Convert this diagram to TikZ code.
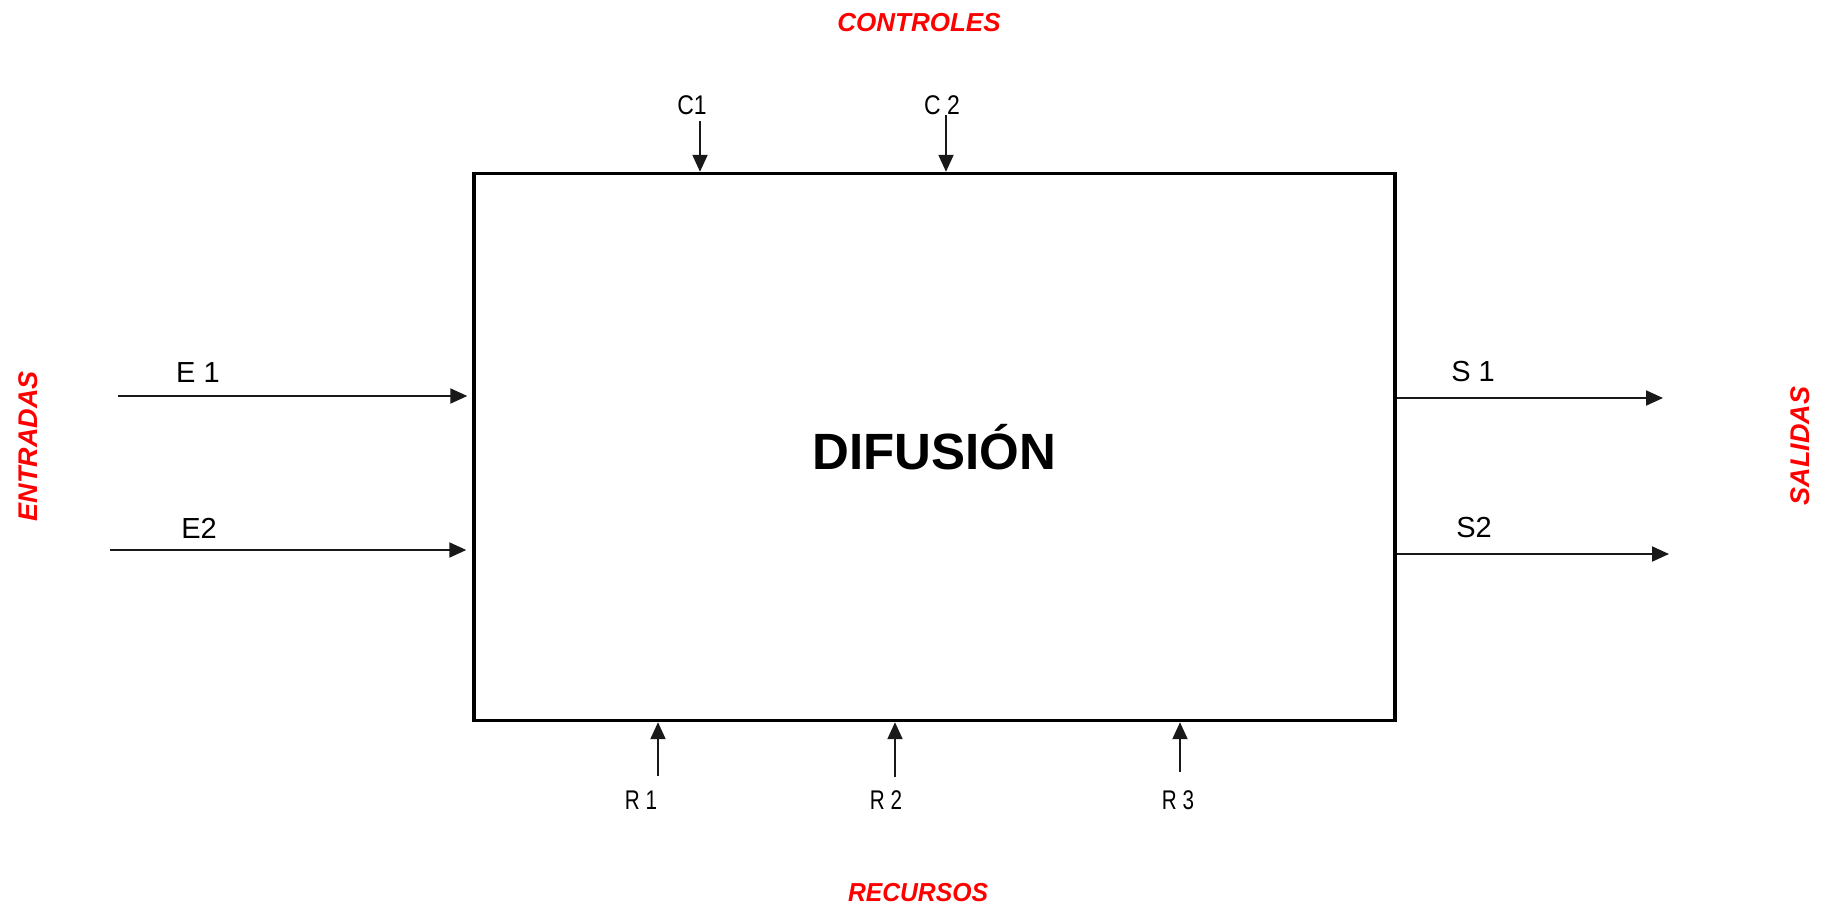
\documentclass[tikz,border=0pt]{standalone}
\usepackage{fontspec}
\setmainfont{Liberation Sans}
\usetikzlibrary{arrows.meta}

\begin{document}
\begin{tikzpicture}[
  x=1pt,y=-1pt,
  >={Triangle[length=17pt,width=15pt]},
  proc/.style={draw,line width=3.4pt,minimum width=921pt,minimum height=547pt,inner sep=0pt,
    font=\fontsize{51}{60}\selectfont\bfseries},
  flow/.style={->,line width=2pt,black!90},
  side/.style={text=red,font=\fontsize{27}{32}\selectfont\bfseries\itshape,inner sep=0pt},
  tag/.style={font=\fontsize{29}{34}\selectfont,inner sep=0pt},
  small/.style={font=\fontsize{27}{32}\selectfont,inner sep=0pt,xscale=.85}
]
\useasboundingbox (0,0) rectangle (1829,906);

% Central activity box
\node[proc] (box) at (934.5,447) {DIFUSIÓN};

% Group titles
\node[side,font=\fontsize{26}{30}\selectfont\bfseries\itshape] (ctl) at (919,23) {CONTROLES};
\node[side,font=\fontsize{26}{30}\selectfont\bfseries\itshape,xscale=.95] (rec) at (918,893) {RECURSOS};
\node[side,rotate=90] (ent) at (28,446) {ENTRADAS};
\node[side,rotate=90] (sal) at (1800,446) {SALIDAS};

% Inputs
\coordinate (e1) at (118,396);
\coordinate (e2) at (110,550);
\node[tag] (e1l) at (198,373) {E 1};
\node[tag] (e2l) at (199,528) {E2};
\draw[flow,shorten >=5pt] (e1) -- (e1 -| box.west);
\draw[flow,shorten >=6pt] (e2) -- (e2 -| box.west);

% Outputs
\coordinate (s1) at (1663,398);
\coordinate (s2) at (1669,554);
\node[tag] (s1l) at (1473,372) {S 1};
\node[tag] (s2l) at (1474,528) {S2};
\draw[flow] (s1 -| box.east) -- (s1);
\draw[flow] (s2 -| box.east) -- (s2);

% Controls
\coordinate (c1) at (700,121);
\coordinate (c2) at (946,115);
\node[small] (c1l) at (692,105) {C1};
\node[small] (c2l) at (942,105) {C 2};
\draw[flow] (c1) -- (c1 |- box.north);
\draw[flow] (c2) -- (c2 |- box.north);

% Resources
\foreach \i/\x/\y/\lx in {1/658/776/641,2/895/777/886,3/1180/772/1178}{
  \coordinate (r\i) at (\x,\y);
  \node[small,xscale=.9] (r\i l) at (\lx,800) {R \i};
  \draw[flow] (r\i) -- (r\i |- box.south);
}
\end{tikzpicture}
\end{document}
